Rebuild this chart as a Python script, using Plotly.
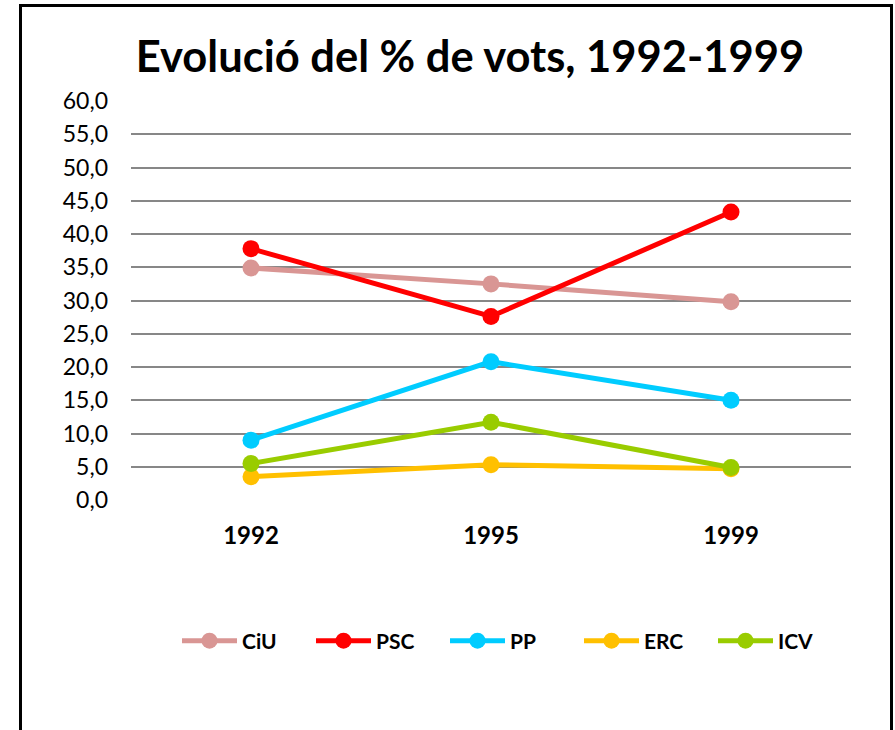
import plotly.graph_objects as go

years = ["1992", "1995", "1999"]
parties = ["CiU", "PSC", "PP", "ERC", "ICV"]
ciu = [34.9, 32.5, 29.8]
psc = [37.8, 27.6, 43.3]
pp = [9.0, 20.8, 15.0]
erc = [3.5, 5.3, 4.7]
icv = [5.5, 11.7, 4.9]
colors = ["#D99694", "#FF0000", "#00CCFF", "#FFC000", "#99CC00"]
series = [ciu, psc, pp, erc, icv]
y_ticks = [0, 5, 10, 15, 20, 25, 30, 35, 40, 45, 50, 55, 60]

FONT = "Lato"
W, H = 895, 730
ML, MR, MT, MB = 131, 44, 101, 230
PW, PH = W - ML - MR, H - MT - MB

fig = go.Figure()
for name, vals, col in zip(parties, series, colors):
    fig.add_trace(go.Scatter(
        x=years, y=vals, name=name, mode="lines+markers",
        line=dict(color=col, width=5),
        marker=dict(color=col, size=17),
    ))

def px_x(p):
    return (p - ML) / PW

def px_y(p):
    return (MT + PH - p) / PH

fig.add_shape(type="rect", xref="paper", yref="paper",
              x0=px_x(20.5), x1=px_x(891.5), y0=px_y(760), y1=px_y(5.5),
              line=dict(color="black", width=3), fillcolor="rgba(0,0,0,0)")

fig.update_layout(
    width=W, height=H,
    margin=dict(l=ML, r=MR, t=MT, b=MB),
    paper_bgcolor="white", plot_bgcolor="white",
    separators=",.",
    font=dict(family=FONT, color="black"),
    title=dict(text="<b>Evolució del % de vots, 1992-1999</b>",
               font=dict(family=FONT, size=43.5, color="black"),
               x=470 / W, xanchor="center", xref="container",
               y=1 - 57 / H, yanchor="middle", yref="container"),
    xaxis=dict(type="category", range=[-0.5, 2.5], showgrid=False,
               zeroline=False, showline=False, ticks="",
               tickfont=dict(family=FONT, size=24, color="black", weight="bold"),
               ticklabelstandoff=19),
    yaxis=dict(range=[0, 60], tickvals=y_ticks, tickformat=".1f",
               showgrid=True, gridcolor="#878787", gridwidth=1.5,
               zeroline=False, showline=False, ticks="",
               tickfont=dict(family=FONT, size=23, color="black"),
               ticklabelstandoff=22),
    legend=dict(orientation="h", x=px_x(512), xanchor="center",
                y=px_y(641), yanchor="middle",
                font=dict(family=FONT, size=21, color="black", weight="bold"),
                itemwidth=55,
                entrywidth=64, entrywidthmode="pixels",
                bgcolor="rgba(0,0,0,0)"),
    showlegend=True,
)

fig.write_html("out.html",
               config={"displayModeBar": False},
               post_script="document.body.style.margin='0';document.body.style.overflow='hidden';")
